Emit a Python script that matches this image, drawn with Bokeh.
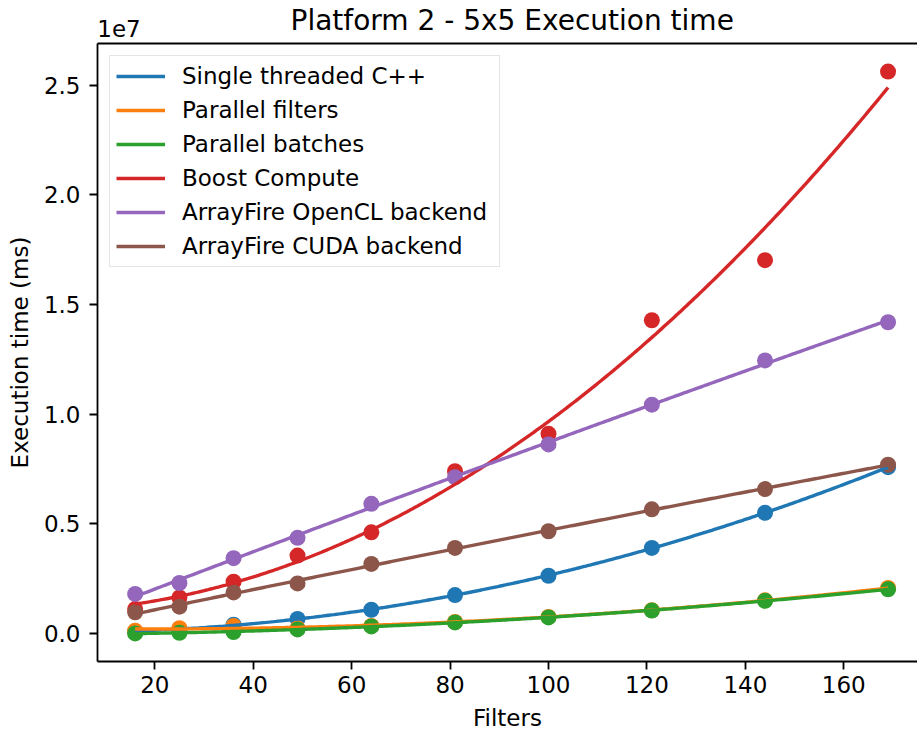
import numpy as np
from bokeh.plotting import figure
from bokeh.models import (Range1d, FixedTicker, LinearAxis, Legend, LegendItem,
                          NumeralTickFormatter, CustomJSTickFormatter, Title)
from bokeh.embed import file_html
from bokeh.resources import INLINE

# ---- data (execution time in units of 1e7 ms) ----
filters = [16, 25, 36, 49, 64, 81, 100, 121, 144, 169]
single_threaded = [0.009, 0.020, 0.040, 0.066, 0.108, 0.175, 0.263, 0.390, 0.550, 0.758]
parallel_filters = [0.012, 0.024, 0.034, 0.024, 0.034, 0.052, 0.075, 0.106, 0.151, 0.207]
parallel_batches = [0.000, 0.003, 0.006, 0.018, 0.032, 0.050, 0.073, 0.104, 0.149, 0.201]
boost_compute = [0.111, 0.164, 0.236, 0.355, 0.461, 0.740, 0.910, 1.428, 1.702, 2.562]
af_opencl = [0.180, 0.230, 0.343, 0.436, 0.591, 0.712, 0.862, 1.043, 1.245, 1.419]
af_cuda = [0.096, 0.122, 0.187, 0.228, 0.317, 0.390, 0.466, 0.566, 0.658, 0.769]

series_names = ["Single threaded C++", "Parallel filters", "Parallel batches",
                "Boost Compute", "ArrayFire OpenCL backend", "ArrayFire CUDA backend"]
series_values = [single_threaded, parallel_filters, parallel_batches,
                 boost_compute, af_opencl, af_cuda]
colors = ["#1f77b4", "#ff7f0e", "#2ca02c", "#d62728", "#9467bd", "#8c564b"]

x_ticks = [20, 40, 60, 80, 100, 120, 140, 160]
y_ticks = [0.0, 0.5, 1.0, 1.5, 2.0, 2.5]

FONT = "DejaVu Sans"

# axis limits like matplotlib autoscale (5% margins)
all_vals = [v for s in series_values for v in s]
ymin, ymax = min(all_vals), max(all_vals)
ypad = 0.05 * (ymax - ymin)
ylo, yhi = ymin - ypad, ymax + ypad
xpad = 0.05 * (max(filters) - min(filters))
xlo = min(filters) - xpad
W, H = 917, 733
LEFT, TOP, BOTTOM = 97, 43, 72
PX_PER_UNIT = 4.921
xhi_visible = xlo + (W - LEFT) / PX_PER_UNIT

p = figure(width=W, height=H, output_backend="svg", toolbar_location=None,
           x_range=Range1d(xlo, xhi_visible), y_range=Range1d(ylo, yhi),
           min_border_left=LEFT, min_border_right=0, min_border_top=TOP,
           min_border_bottom=BOTTOM)
p.outline_line_color = None
p.grid.visible = False
p.background_fill_color = "white"
p.border_fill_color = "white"


def style_axis(ax):
    ax.major_label_text_font = FONT
    ax.major_label_text_font_size = "23px"
    ax.major_label_text_color = "black"
    ax.major_tick_out = 8
    ax.major_tick_in = 0
    ax.minor_tick_out = 0
    ax.minor_tick_in = 0
    ax.axis_line_width = 1.8
    ax.major_tick_line_width = 1.8
    ax.axis_line_color = "black"
    ax.major_tick_line_color = "black"
    ax.axis_label_text_font = FONT
    ax.axis_label_text_font_size = "23px"
    ax.axis_label_text_font_style = "normal"
    ax.axis_label_text_color = "black"


xa = p.xaxis[0]
ya = p.yaxis[0]
style_axis(xa)
style_axis(ya)
xa.ticker = FixedTicker(ticks=x_ticks)
xa.major_label_standoff = 6
xa.axis_label = "Filters"
xa.axis_label_standoff = 9
ya.ticker = FixedTicker(ticks=y_ticks)
ya.formatter = NumeralTickFormatter(format="0.0")
ya.major_label_standoff = 9
ya.axis_label = "Execution time (ms)"
ya.axis_label_standoff = 8

# top spine + the "1e7" offset text (as a single tick label of a top axis)
offset_tick = xlo + 21.5 / PX_PER_UNIT
top_axis = LinearAxis(ticker=FixedTicker(ticks=[offset_tick]),
                      formatter=CustomJSTickFormatter(code="return '1e7'"))
style_axis(top_axis)
top_axis.major_tick_out = 0
top_axis.major_label_standoff = 7
p.add_layout(top_axis, "above")

p.title = Title(text="Platform 2 - 5x5 Execution time", align="left", offset=193,
                standoff=-41, text_font=FONT, text_font_size="28px",
                text_font_style="normal", text_color="black")

# scatter points
for vals, c in zip(series_values, colors):
    p.scatter(filters, vals, size=16, fill_color=c, line_color=c, line_width=0)

# fitted trend lines (quadratic least squares of the read points)
xs = np.linspace(min(filters), max(filters), 300)
items = []
for name, vals, c in zip(series_names, series_values, colors):
    coef = np.polyfit(filters, vals, 2)
    ys = np.polyval(coef, xs)
    r = p.line(xs, ys, line_color=c, line_width=3.4)
    items.append(LegendItem(label=name, renderers=[r]))

legend = Legend(items=items, location="top_left", margin=12, padding=6, spacing=6,
                glyph_width=49, glyph_height=28, label_height=28, label_standoff=17,
                label_width=311,
                label_text_font=FONT, label_text_font_size="23px", label_text_color="black",
                border_line_color="#cccccc", border_line_width=1.5,
                background_fill_color="white", background_fill_alpha=0.8)
p.add_layout(legend)

open("out.html", "w").write(file_html(p, INLINE))
